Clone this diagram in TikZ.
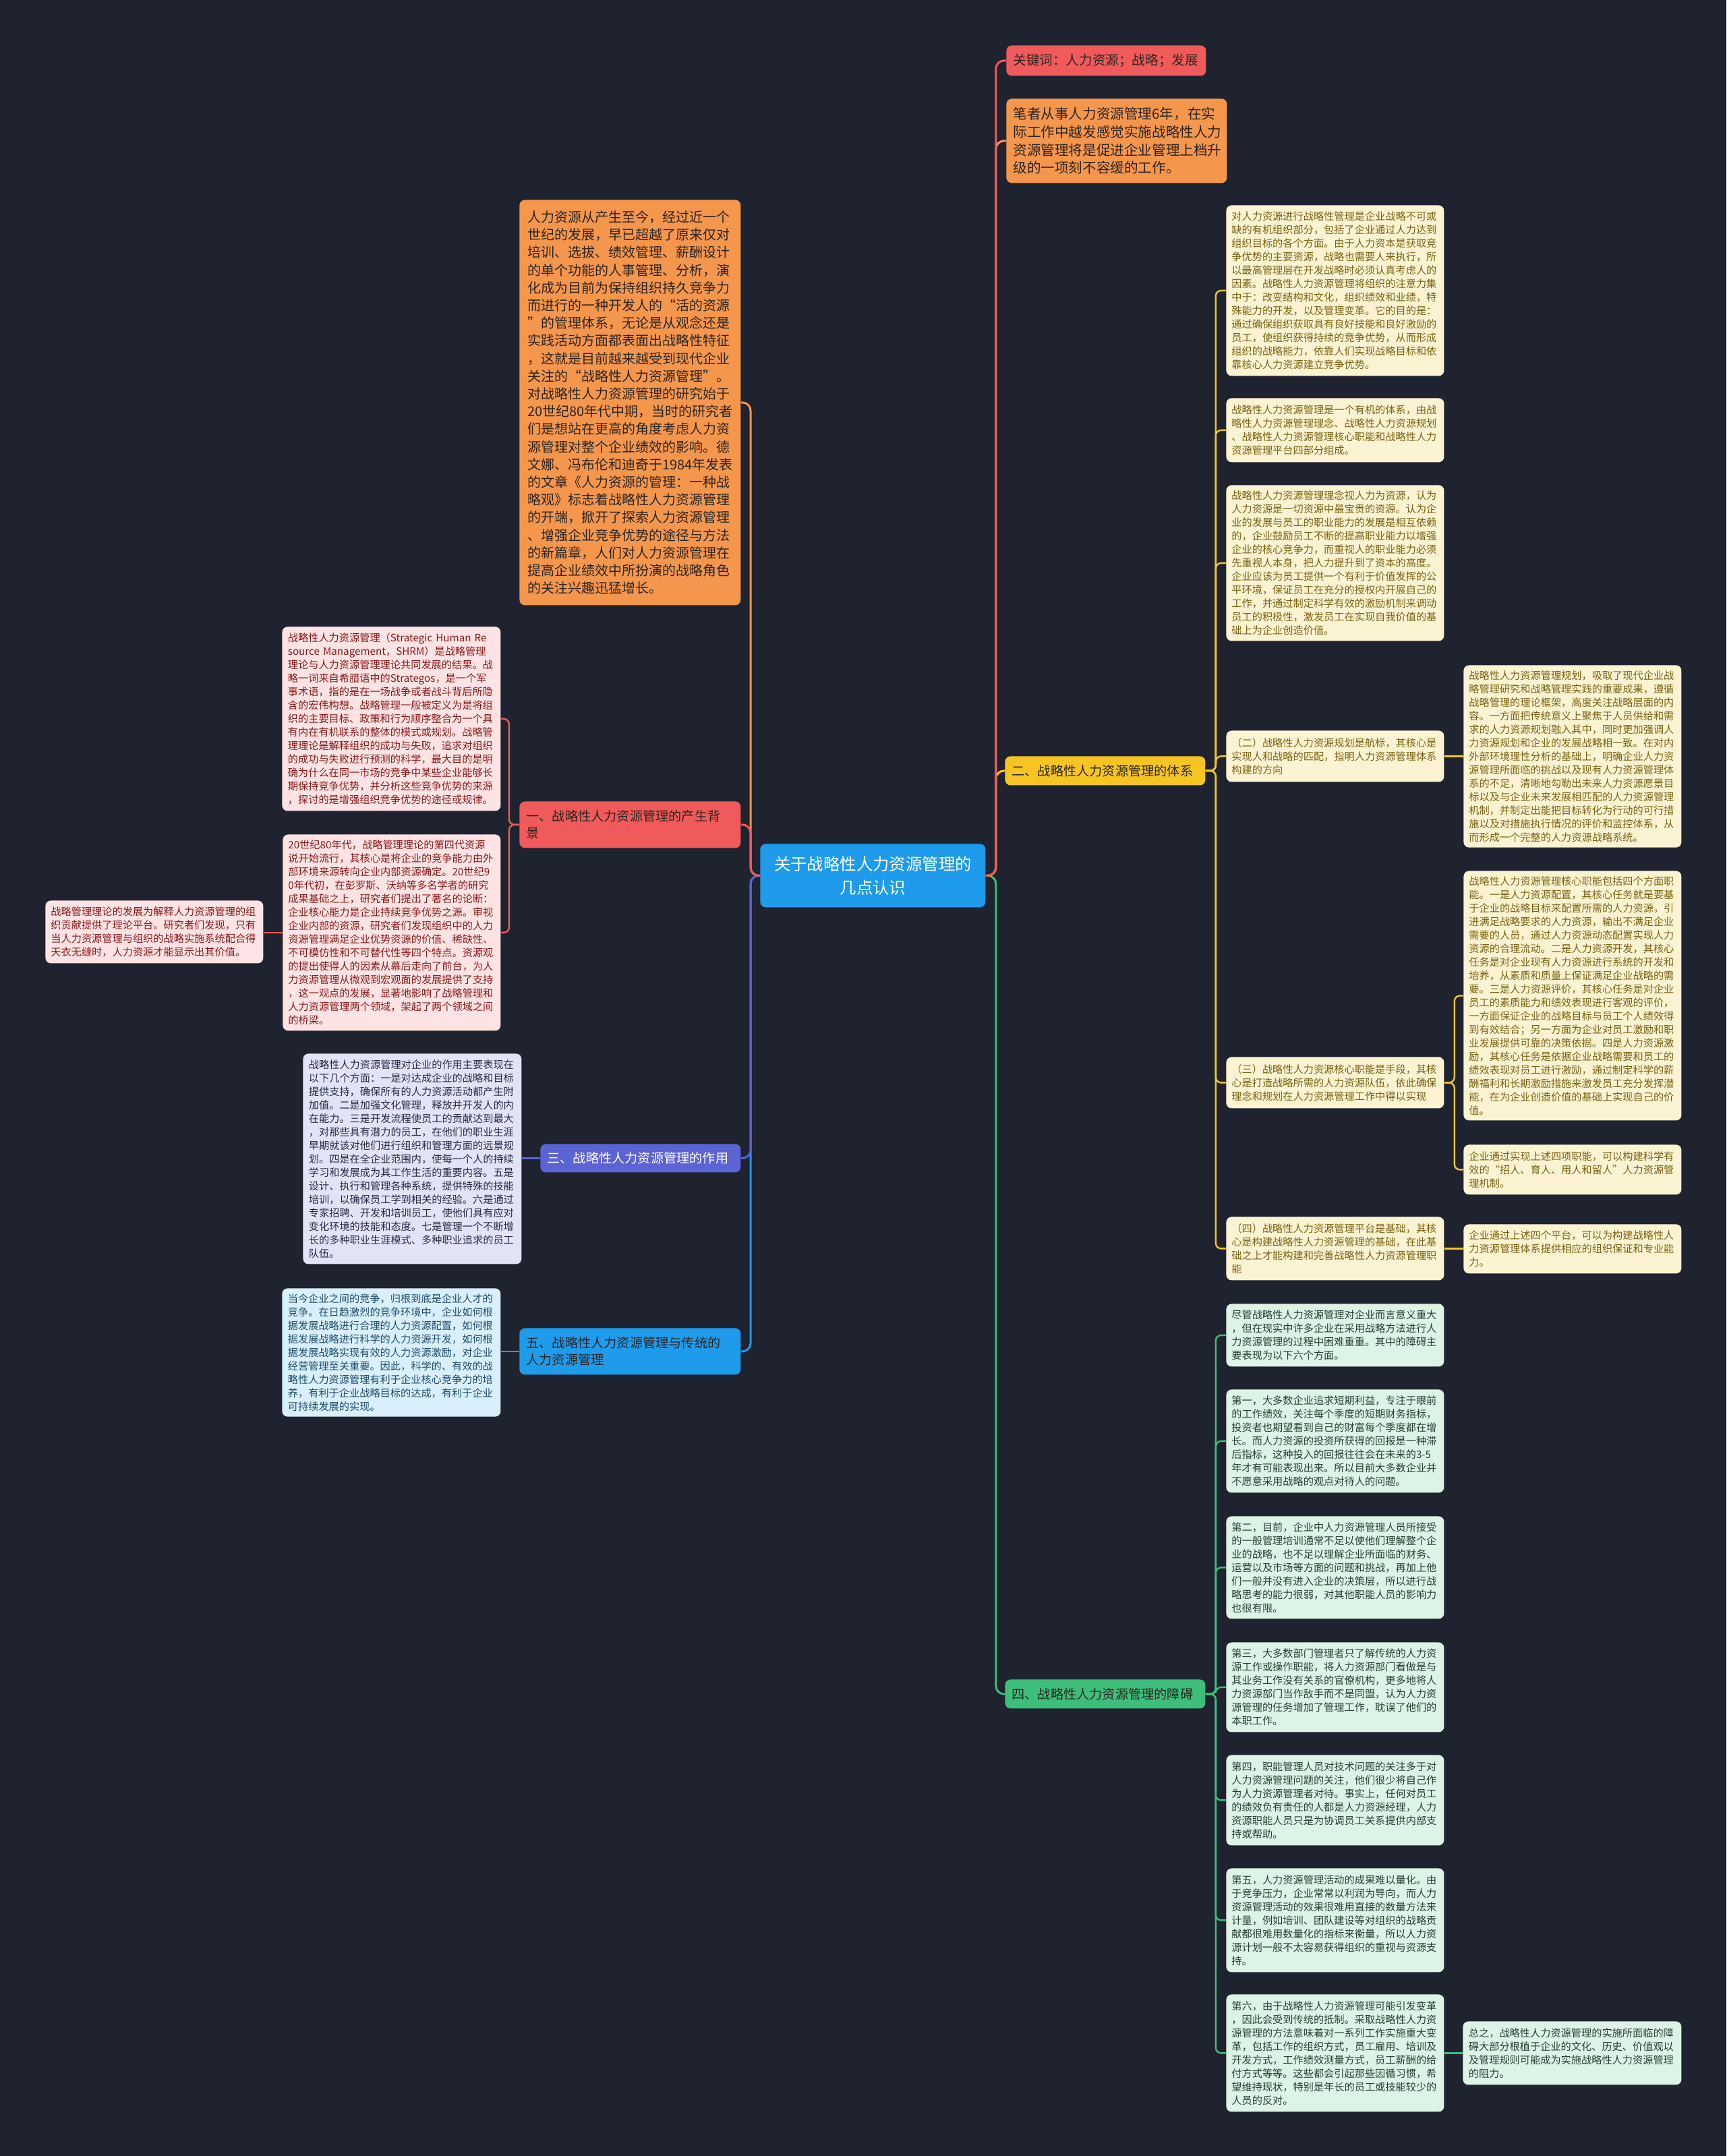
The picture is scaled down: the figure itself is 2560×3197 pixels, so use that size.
\documentclass[tikz,border=0pt]{standalone}
\usepackage{fontspec}
\setmainfont{Noto Sans CJK SC}
\definecolor{bgc}{HTML}{1F2330}
\definecolor{redc}{HTML}{F05A5A}
\definecolor{orc}{HTML}{F5964D}
\definecolor{ylc}{HTML}{F6C523}
\definecolor{gnc}{HTML}{3DBE7B}
\definecolor{puc}{HTML}{5C63D5}
\definecolor{blc}{HTML}{1E9BEB}
\definecolor{pkfill}{HTML}{FDE3E3}
\definecolor{pktext}{HTML}{8B1A1A}
\definecolor{ywfill}{HTML}{FCF3D2}
\definecolor{ywtext}{HTML}{7A6212}
\definecolor{gnfill}{HTML}{DDF3E6}
\definecolor{gntext}{HTML}{2A3F33}
\definecolor{pufill}{HTML}{E2E4F6}
\definecolor{putext}{HTML}{262A44}
\definecolor{blfill}{HTML}{D9EFFB}
\definecolor{bltext}{HTML}{1E4D6B}
\definecolor{darktext}{HTML}{2A2522}
\tikzset{
  basebox/.style={rounded corners=4pt, inner xsep=4pt, inner ysep=4pt, anchor=north west, align=left},
  smallbox/.style={basebox, text width=153.5pt, font=\fontsize{7.6}{10}\selectfont},
  pkbox/.style={smallbox, fill=pkfill, text=pktext},
  ywbox/.style={smallbox, fill=ywfill, text=ywtext},
  gnbox/.style={smallbox, fill=gnfill, text=gntext},
  pubox/.style={smallbox, fill=pufill, text=putext},
  blbox/.style={smallbox, fill=blfill, text=bltext},
  lblbox/.style={basebox, inner xsep=5pt, font=\fontsize{9.6}{12.5}\selectfont, text=darktext},
  conn/.style={line width=1.5pt, rounded corners=6pt},
  subconn/.style={line width=1.2pt, rounded corners=4pt}
}
\begin{document}
\begin{tikzpicture}[x=0.5pt,y=-0.5pt]
\fill[bgc] (0,0) rectangle (2560,3197);
\useasboundingbox (0,0) rectangle (2560,3197);

% center
\node[basebox, fill=blc, text=white, align=center, text width=155pt, minimum width=167pt, minimum height=47pt, font=\fontsize{12.2}{17.3}\selectfont] (c) at (1127,1251) {关于战略性人力资源管理的\\几点认识};

% right main branches
\node[lblbox, fill=redc, text width=138pt, minimum width=148pt, minimum height=22.5pt, font=\fontsize{9.8}{12.5}\selectfont] (kw) at (1492,67) {关键词：人力资源；战略；发展};
\node[basebox, fill=orc, text=darktext, inner xsep=5pt, inner ysep=6pt, text width=153.5pt, minimum width=163.5pt, minimum height=62.5pt, font=\fontsize{10.3}{13.35}\selectfont] (o1) at (1492,146) {笔者从事人力资源管理6年，在实\\际工作中越发感觉实施战略性人力\\资源管理将是促进企业管理上档升\\级的一项刻不容缓的工作。};
\node[lblbox, fill=ylc, text width=138.5pt, minimum width=148.5pt, minimum height=21.5pt] (b2) at (1490,1121) {二、战略性人力资源管理的体系};
\node[lblbox, fill=gnc, text width=138.5pt, minimum width=148.5pt, minimum height=21.5pt] (b4) at (1490,2490) {四、战略性人力资源管理的障碍};

% left main branches
\node[basebox, fill=orc, text=darktext, inner xsep=6pt, inner ysep=6pt, text width=152pt, minimum width=164pt, minimum height=300.5pt, font=\fontsize{10}{13.1}\selectfont] (o2) at (770,296) {人力资源从产生至今，经过近一个\\世纪的发展，早已超越了原来仅对\\培训、选拔、绩效管理、薪酬设计\\的单个功能的人事管理、分析，演\\化成为目前为保持组织持久竞争力\\而进行的一种开发人的“活的资源\\”的管理体系，无论是从观念还是\\实践活动方面都表面出战略性特征\\，这就是目前越来越受到现代企业\\关注的“战略性人力资源管理”。\\对战略性人力资源管理的研究始于\\20世纪80年代中期，当时的研究者\\们是想站在更高的角度考虑人力资\\源管理对整个企业绩效的影响。德\\文娜、冯布伦和迪奇于1984年发表\\的文章《人力资源的管理：一种战\\略观》标志着战略性人力资源管理\\的开端，掀开了探索人力资源管理\\、增强企业竞争优势的途径与方法\\的新篇章，人们对人力资源管理在\\提高企业绩效中所扮演的战略角色\\的关注兴趣迅猛增长。};
\node[lblbox, fill=redc, text width=154pt, minimum width=164pt, minimum height=34.5pt] (b1) at (770,1188) {一、战略性人力资源管理的产生背\\景};
\node[lblbox, fill=puc, text=white, text width=138.5pt, minimum width=148.5pt, minimum height=21pt] (b3) at (801,1696) {三、战略性人力资源管理的作用};
\node[lblbox, fill=blc, text width=154pt, minimum width=164pt, minimum height=34.5pt] (b5) at (770,1969) {五、战略性人力资源管理与传统的\\人力资源管理};

% 一 subtree
\node[pkbox, minimum width=162pt, minimum height=136.5pt] (p1) at (418,929) {战略性人力资源管理（Strategic~Human~Re\\source~Management，SHRM）是战略管理\\理论与人力资源管理理论共同发展的结果。战\\略一词来自希腊语中的Strategos，是一个军\\事术语，指的是在一场战争或者战斗背后所隐\\含的宏伟构想。战略管理一般被定义为是将组\\织的主要目标、政策和行为顺序整合为一个具\\有内在有机联系的整体的模式或规划。战略管\\理理论是解释组织的成功与失败，追求对组织\\的成功与失败进行预测的科学，最大目的是明\\确为什么在同一市场的竞争中某些企业能够长\\期保持竞争优势，并分析这些竞争优势的来源\\，探讨的是增强组织竞争优势的途径或规律。};
\node[pkbox, minimum width=161.5pt, minimum height=145.5pt] (p2) at (419,1237) {20世纪80年代，战略管理理论的第四代资源\\说开始流行，其核心是将企业的竞争能力由外\\部环境来源转向企业内部资源确定。20世纪9\\0年代初，在彭罗斯、沃纳等多名学者的研究\\成果基础之上，研究者们提出了著名的论断：\\企业核心能力是企业持续竞争优势之源。审视\\企业内部的资源，研究者们发现组织中的人力\\资源管理满足企业优势资源的价值、稀缺性、\\不可模仿性和不可替代性等四个特点。资源观\\的提出使得人的因素从幕后走向了前台，为人\\力资源管理从微观到宏观面的发展提供了支持\\，这一观点的发展，显著地影响了战略管理和\\人力资源管理两个领域，架起了两个领域之间\\的桥梁。};
\node[pkbox, minimum width=160.5pt, minimum height=46.5pt] (p3) at (67,1335) {战略管理理论的发展为解释人力资源管理的组\\织贡献提供了理论平台。研究者们发现，只有\\当人力资源管理与组织的战略实施系统配合得\\天衣无缝时，人力资源才能显示出其价值。};

% 三 and 五 children
\node[pubox, minimum width=162pt, minimum height=156pt] (pu) at (449,1562) {战略性人力资源管理对企业的作用主要表现在\\以下几个方面：一是对达成企业的战略和目标\\提供支持，确保所有的人力资源活动都产生附\\加值。二是加强文化管理，释放并开发人的内\\在能力。三是开发流程使员工的贡献达到最大\\，对那些具有潜力的员工，在他们的职业生涯\\早期就该对他们进行组织和管理方面的远景规\\划。四是在全企业范围内，使每一个人的持续\\学习和发展成为其工作生活的重要内容。五是\\设计、执行和管理各种系统，提供特殊的技能\\培训，以确保员工学到相关的经验。六是通过\\专家招聘、开发和培训员工，使他们具有应对\\变化环境的技能和态度。七是管理一个不断增\\长的多种职业生涯模式、多种职业追求的员工\\队伍。};
\node[blbox, minimum width=162pt, minimum height=94.5pt] (bl) at (418,1910) {当今企业之间的竞争，归根到底是企业人才的\\竞争。在日趋激烈的竞争环境中，企业如何根\\据发展战略进行合理的人力资源配置，如何根\\据发展战略进行科学的人力资源开发，如何根\\据发展战略实现有效的人力资源激励，对企业\\经营管理至关重要。因此，科学的、有效的战\\略性人力资源管理有利于企业核心竞争力的培\\养，有利于企业战略目标的达成，有利于企业\\可持续发展的实现。};

% 二 subtree
\node[ywbox, minimum width=161pt, minimum height=126.5pt] (y1) at (1818,304) {对人力资源进行战略性管理是企业战略不可或\\缺的有机组织部分，包括了企业通过人力达到\\组织目标的各个方面。由于人力资本是获取竞\\争优势的主要资源，战略也需要人来执行，所\\以最高管理层在开发战略时必须认真考虑人的\\因素。战略性人力资源管理将组织的注意力集\\中于：改变结构和文化，组织绩效和业绩，特\\殊能力的开发，以及管理变革。它的目的是：\\通过确保组织获取具有良好技能和良好激励的\\员工，使组织获得持续的竞争优势，从而形成\\组织的战略能力，依靠人们实现战略目标和依\\靠核心人力资源建立竞争优势。};
\node[ywbox, minimum width=161pt, minimum height=47.5pt] (y2) at (1818,590) {战略性人力资源管理是一个有机的体系，由战\\略性人力资源管理理念、战略性人力资源规划\\、战略性人力资源管理核心职能和战略性人力\\资源管理平台四部分组成。};
\node[ywbox, minimum width=161pt, minimum height=115.5pt] (y3) at (1818,719) {战略性人力资源管理理念视人力为资源，认为\\人力资源是一切资源中最宝贵的资源。认为企\\业的发展与员工的职业能力的发展是相互依赖\\的，企业鼓励员工不断的提高职业能力以增强\\企业的核心竞争力，而重视人的职业能力必须\\先重视人本身，把人力提升到了资本的高度。\\企业应该为员工提供一个有利于价值发挥的公\\平环境，保证员工在充分的授权内开展自己的\\工作，并通过制定科学有效的激励机制来调动\\员工的积极性，激发员工在实现自我价值的基\\础上为企业创造价值。};
\node[ywbox, minimum width=161pt, minimum height=38pt] (y4) at (1818,1083) {（二）战略性人力资源规划是航标，其核心是\\实现人和战略的匹配，指明人力资源管理体系\\构建的方向};
\node[ywbox, minimum width=161pt, minimum height=38pt] (y5) at (1818,1567) {（三）战略性人力资源核心职能是手段，其核\\心是打造战略所需的人力资源队伍，依此确保\\理念和规划在人力资源管理工作中得以实现};
\node[ywbox, minimum width=161pt, minimum height=47pt] (y6) at (1818,1804) {（四）战略性人力资源管理平台是基础，其核\\心是构建战略性人力资源管理的基础，在此基\\础之上才能构建和完善战略性人力资源管理职\\能};
\node[ywbox, minimum width=161.5pt, minimum height=134.5pt] (r1) at (2170,986) {战略性人力资源管理规划，吸取了现代企业战\\略管理研究和战略管理实践的重要成果，遵循\\战略管理的理论框架，高度关注战略层面的内\\容。一方面把传统意义上聚焦于人员供给和需\\求的人力资源规划融入其中，同时更加强调人\\力资源规划和企业的发展战略相一致。在对内\\外部环境理性分析的基础上，明确企业人力资\\源管理所面临的挑战以及现有人力资源管理体\\系的不足，清晰地勾勒出未来人力资源愿景目\\标以及与企业未来发展相匹配的人力资源管理\\机制，并制定出能把目标转化为行动的可行措\\施以及对措施执行情况的评价和监控体系，从\\而形成一个完整的人力资源战略系统。};
\node[ywbox, minimum width=161.5pt, minimum height=184.5pt] (r2) at (2170,1291) {战略性人力资源管理核心职能包括四个方面职\\能。一是人力资源配置，其核心任务就是要基\\于企业的战略目标来配置所需的人力资源，引\\进满足战略要求的人力资源，输出不满足企业\\需要的人员，通过人力资源动态配置实现人力\\资源的合理流动。二是人力资源开发，其核心\\任务是对企业现有人力资源进行系统的开发和\\培养，从素质和质量上保证满足企业战略的需\\要。三是人力资源评价，其核心任务是对企业\\员工的素质能力和绩效表现进行客观的评价，\\一方面保证企业的战略目标与员工个人绩效得\\到有效结合；另一方面为企业对员工激励和职\\业发展提供可靠的决策依据。四是人力资源激\\励，其核心任务是依据企业战略需要和员工的\\绩效表现对员工进行激励，通过制定科学的薪\\酬福利和长期激励措施来激发员工充分发挥潜\\能，在为企业创造价值的基础上实现自己的价\\值。};
\node[ywbox, minimum width=161.5pt, minimum height=37pt] (r3) at (2170,1697) {企业通过实现上述四项职能，可以构建科学有\\效的“招人、育人、用人和留人”人力资源管\\理机制。};
\node[ywbox, minimum width=161.5pt, minimum height=36.5pt] (r4) at (2170,1815) {企业通过上述四个平台，可以为构建战略性人\\力资源管理体系提供相应的组织保证和专业能\\力。};

% 四 subtree
\node[gnbox, minimum width=161.5pt, minimum height=46.5pt] (g1) at (1818,1933) {尽管战略性人力资源管理对企业而言意义重大\\，但在现实中许多企业在采用战略方法进行人\\力资源管理的过程中困难重重。其中的障碍主\\要表现为以下六个方面。};
\node[gnbox, minimum width=161.5pt, minimum height=76.5pt] (g2) at (1818,2060) {第一，大多数企业追求短期利益，专注于眼前\\的工作绩效，关注每个季度的短期财务指标，\\投资者也期望看到自己的财富每个季度都在增\\长。而人力资源的投资所获得的回报是一种滞\\后指标，这种投入的回报往往会在未来的3-5\\年才有可能表现出来。所以目前大多数企业并\\不愿意采用战略的观点对待人的问题。};
\node[gnbox, minimum width=161.5pt, minimum height=76pt] (g3) at (1818,2248) {第二，目前，企业中人力资源管理人员所接受\\的一般管理培训通常不足以使他们理解整个企\\业的战略，也不足以理解企业所面临的财务、\\运营以及市场等方面的问题和挑战，再加上他\\们一般并没有进入企业的决策层，所以进行战\\略思考的能力很弱，对其他职能人员的影响力\\也很有限。};
\node[gnbox, minimum width=161.5pt, minimum height=66.5pt] (g4) at (1818,2435) {第三，大多数部门管理者只了解传统的人力资\\源工作或操作职能，将人力资源部门看做是与\\其业务工作没有关系的官僚机构，更多地将人\\力资源部门当作敌手而不是同盟，认为人力资\\源管理的任务增加了管理工作，耽误了他们的\\本职工作。};
\node[gnbox, minimum width=161.5pt, minimum height=67pt] (g5) at (1818,2602) {第四，职能管理人员对技术问题的关注多于对\\人力资源管理问题的关注，他们很少将自己作\\为人力资源管理者对待。事实上，任何对员工\\的绩效负有责任的人都是人力资源经理，人力\\资源职能人员只是为协调员工关系提供内部支\\持或帮助。};
\node[gnbox, minimum width=161.5pt, minimum height=77pt] (g6) at (1818,2770) {第五，人力资源管理活动的成果难以量化。由\\于竞争压力，企业常常以利润为导向，而人力\\资源管理活动的效果很难用直接的数量方法来\\计量，例如培训、团队建设等对组织的战略贡\\献都很难用数量化的指标来衡量，所以人力资\\源计划一般不太容易获得组织的重视与资源支\\持。};
\node[gnbox, minimum width=161.5pt, minimum height=87pt] (g7) at (1818,2957) {第六，由于战略性人力资源管理可能引发变革\\，因此会受到传统的抵制。采取战略性人力资\\源管理的方法意味着对一系列工作实施重大变\\革，包括工作的组织方式，员工雇用、培训及\\开发方式，工作绩效测量方式，员工薪酬的给\\付方式等等。这些都会引起那些因循习惯，希\\望维持现状，特别是年长的员工或技能较少的\\人员的反对。};
\node[gnbox, minimum width=162pt, minimum height=47pt] (g8) at (2169,2997) {总之，战略性人力资源管理的实施所面临的障\\碍大部分根植于企业的文化、历史、价值观以\\及管理规则可能成为实施战略性人力资源管理\\的阻力。};

% main connectors (right)
\draw[conn, gnc] (c.east) -- ++(15,0) |- (b4.west);
\draw[conn, ylc] (c.east) -- ++(15,0) |- (b2.west);
\draw[conn, orc] (c.east) -- ++(15,0) |- (o1.west);
\draw[conn, redc] (c.east) -- ++(15,0) |- (kw.west);
% main connectors (left)
\draw[conn, orc] (c.west) -- ++(-14,0) |- (o2.east);
\draw[conn, blc] (c.west) -- ++(-14,0) |- (b5.east);
\draw[conn, puc] (c.west) -- ++(-14,0) |- (b3.east);
\draw[conn, redc] (c.west) -- ++(-14,0) |- (b1.east);

% 一
\draw[subconn, redc] (b1.west) -- ++(-15,0) |- (p1.east);
\draw[subconn, redc] (b1.west) -- ++(-15,0) |- (p2.east);
\draw[subconn, redc] (p2.west) -- (p2.west -| p3.east);
% 三, 五
\draw[subconn, puc] (b3.west) -- (b3.west -| pu.east);
\draw[subconn, blc] (b5.west) -- (b5.west -| bl.east);
% 二
\foreach \n in {y1,y2,y3,y4,y5,y6}{
  \draw[subconn, ylc] (b2.east) -- ++(15,0) |- (\n.west);
}
\draw[subconn, ylc] (y4.east) -- (y4.east -| r1.west);
\draw[subconn, ylc] (y5.east) -- ++(15,0) |- (r2.west);
\draw[subconn, ylc] (y5.east) -- ++(15,0) |- (r3.west);
\draw[subconn, ylc] (y6.east) -- (y6.east -| r4.west);
% 四
\foreach \n in {g1,g2,g3,g4,g5,g6,g7}{
  \draw[subconn, gnc] (b4.east) -- ++(15,0) |- (\n.west);
}
\draw[subconn, gnc] (g7.east) -- (g7.east -| g8.west);
\end{tikzpicture}
\end{document}
